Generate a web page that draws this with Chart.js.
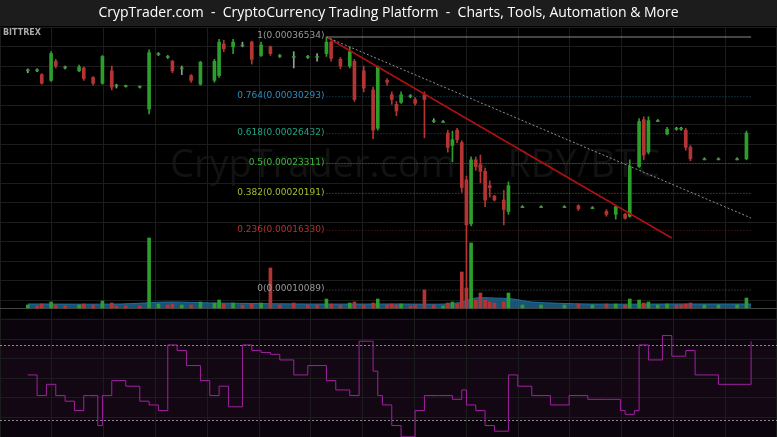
<!DOCTYPE html>
<html>
<head>
<meta charset="utf-8">
<title>CrypTrader RBY/BTC</title>
<script src="https://cdn.jsdelivr.net/npm/chart.js"></script>
<style>
  html, body { margin: 0; padding: 0; background: #000; }
  #wrap { width: 777px; height: 437px; }
</style>
</head>
<body>
<div id="wrap"><canvas id="chart" width="777" height="437"></canvas></div>
<script>
// candles: time index, open, high, low, close (satoshi)
const candleT = [0,2,3,5,6,8,11,12,14,16,18,19,21,24,26,28,30,31,33,35,37,40,41,42,44,46,48,50,52,54,57,60,62,64,65,67,69,70,72,74,75,77,78,79,80,82,83,85,87,89,90,91,92,93,94,95,96,97,98,99,100,102,103,106,110,115,118,121,124,126,128,129,131,132,133,135,137,139,140,141,142,145,148,152,154];
const opens  = [33000,33100,32600,32000,34000,33400,33000,33300,32300,31700,33000,31500,31400,31350,29000,34700,34500,34000,33200,32500,31600,32000,32500,35800,35500,35700,36000,34600,35500,34600,34500,34500,34500,34800,36000,34200,33500,34000,33000,31000,27000,32000,30500,29500,29700,30400,30000,30500,27800,27700,26500,25200,26800,25500,21600,17000,23700,23200,22500,21000,19900,19500,18300,18800,18800,18800,18900,18700,18300,18000,18000,17800,23000,27900,24500,27800,26400,27000,27000,26800,25000,23800,23800,23800,23800];
const highs  = [33200,33200,32700,35000,34200,33500,33600,33400,32400,34600,33500,31600,31500,31400,35200,34900,34600,34100,33500,32600,34000,34200,36300,36200,36300,36000,36100,36000,35600,34700,35000,34600,34800,36534,36100,34400,35500,34200,33500,31300,33500,32200,30800,29800,30800,30500,30200,30800,28000,27800,26800,26700,27000,25700,22000,24000,24000,24200,22800,21500,20000,20500,21400,18900,18900,18900,19000,18800,18500,18900,18100,23700,28000,28200,28200,27900,27100,27100,27100,27000,25200,23900,23900,23900,26700];
const lows   = [32800,32900,31600,31900,33300,33200,32900,32000,31500,31600,31000,31200,31300,31200,28500,34600,34300,32800,32600,31800,31500,31800,32300,35000,34800,35500,33700,34500,34600,34400,33300,34300,34000,34500,34000,33200,33300,29800,30800,25900,26800,31500,29500,28300,29600,30200,29400,26000,27600,27600,24500,23500,25500,20300,10100,16800,22600,21300,18800,19800,19400,16900,18000,18700,18700,18700,18400,18600,17800,17500,17500,17700,22900,23700,24300,27700,26300,26800,26800,24700,23600,23700,23700,23700,23700];
const closes = [33100,33000,31700,34800,33500,33300,33400,32200,31700,34500,31300,31400,31350,31300,34900,34800,34400,33000,33300,32000,33900,34000,36000,35300,36000,35600,34200,35700,34800,34500,34400,34400,34400,36000,34300,33500,35000,30000,31200,26800,33400,31800,30000,28800,30500,30300,29600,30000,27700,27700,25000,25800,25800,20800,16900,23700,23000,22500,19500,20800,19500,18500,21000,18800,18800,18800,18600,18700,18000,18800,17600,23000,27700,24200,27800,27800,26900,26900,26900,25000,23800,23800,23800,23800,26500];

// volume bars at candle times, volume moving average (area)
const volumes = [3,2,4,6,3,2,3,4,3,7,5,2,2,2,70,4,3,4,3,3,6,5,8,4,5,3,4,5,40,3,5,3,3,9,4,3,5,6,3,5,9,3,4,3,4,2,3,18,3,2,5,6,4,36,20,65,8,15,8,6,5,6,15,3,3,3,4,3,4,4,3,9,8,5,6,3,4,3,3,4,5,3,3,3,10];
const volMaT = [0,20,30,40,60,80,90,93,96,100,104,108,120,140,155];
const volMa  = [4,4,6,5,4,4,4,6,10,10,9,6,4,4,4];

// RSI
const rsiT = [0,2,4,6,8,10,12,13,15,16,18,21,24,26,28,30,32,34,37,39,41,43,46,48,50,52,54,57,60,64,66,69,71,74,75,76,78,80,83,85,88,91,93,94,96,98,100,103,105,108,112,116,120,124,127,128,130,131,133,136,138,141,143,148,153,154,155];
const rsiVal = [54,43,49,43,40,35,43,43,27,43,51,48,40,38,35,70,67,59,51,43,48,37,70,67,66,65,62,54,59,51,46,43,72,56,43,38,27,21,35,43,43,41,46,38,35,27,24,54,48,43,38,43,41,41,35,33,35,70,62,75,64,67,54,49,49,49,72,72];

// Fibonacci retracement
const fibRatios = ["1","0.764","0.618","0.5","0.382","0.236","0"];
const fibPrices = [36534,30293,26432,23311,20191,16330,10089];
const fibColors = ["#9a9a9a","#2b8ec4","#1fa585","#3dbb3d","#a6bf2c","#b83232","#9a9a9a"];
const fibStartT = 64, endT = 155;

// trendlines
const redTrendT = [64,138], redTrend = [36534,15530];
const grayTrendT = [64,155], grayTrend = [36534,17620];

const GREEN = '#2c9e2c', RED = '#b43434', GRAY = '#8a8a8a';
function candleColor(i) {
  if (Math.abs(opens[i] - closes[i]) < 150) return GRAY;
  return closes[i] > opens[i] ? GREEN : RED;
}

const datasets = [];
fibPrices.forEach((p, i) => {
  datasets.push({
    type: 'line', data: [{x: fibStartT, y: p}, {x: endT, y: p}],
    borderColor: i === 0 ? '#8a8a8a' : fibColors[i] + '99', borderWidth: 1,
    borderDash: i === 0 ? [] : [1, 2], pointRadius: 0, yAxisID: 'y', order: 5
  });
});
datasets.push({
  type: 'line', data: grayTrendT.map((t, i) => ({x: t, y: grayTrend[i]})),
  borderColor: '#8f8f8f', borderWidth: 1, borderDash: [2, 2], pointRadius: 0, yAxisID: 'y', order: 1
});
datasets.push({
  type: 'line', data: redTrendT.map((t, i) => ({x: t, y: redTrend[i]})),
  borderColor: '#b01010', borderWidth: 1.5, pointRadius: 0, yAxisID: 'y', order: 1
});
datasets.push({
  type: 'bar', grouped: false, barThickness: 1,
  data: candleT.map((t, i) => ({x: t, y: [lows[i], highs[i]]})),
  backgroundColor: candleT.map((t, i) => candleColor(i) === GRAY ? '#9a9a9a' : candleColor(i)),
  yAxisID: 'y', order: 3
});
datasets.push({
  type: 'bar', grouped: false, barThickness: 3, minBarLength: 1,
  data: candleT.map((t, i) => ({x: t, y: [opens[i], closes[i]]})),
  backgroundColor: candleT.map((t, i) => candleColor(i) === GRAY ? GREEN : candleColor(i)),
  yAxisID: 'y', order: 2
});
datasets.push({
  type: 'line', data: volMaT.map((t, i) => ({x: t, y: volMa[i]})),
  borderColor: '#1f6f9f', backgroundColor: 'rgba(31,111,159,0.75)', fill: 'origin',
  borderWidth: 1, pointRadius: 0, tension: 0.3, yAxisID: 'vol', order: 4
});
datasets.push({
  type: 'bar', grouped: false, barThickness: 3,
  data: candleT.map((t, i) => ({x: t, y: volumes[i]})),
  backgroundColor: candleT.map((t, i) => closes[i] >= opens[i] ? GREEN : RED),
  yAxisID: 'vol', order: 3
});
datasets.push({
  type: 'line', data: rsiT.map((t, i) => ({x: t, y: rsiVal[i]})),
  borderColor: '#a021a0', borderWidth: 1, pointRadius: 0, stepped: true, yAxisID: 'rsi', order: 1
});

const panels = {
  id: 'panels',
  beforeDraw(chart) {
    const c = chart.ctx;
    c.save();
    c.fillStyle = '#000';
    c.fillRect(0, 0, chart.width, chart.height);
    const rsi = chart.scales.rsi;
    const top = rsi.getPixelForValue(84.5);
    c.fillStyle = '#0c040c';
    c.fillRect(0, top, chart.width, chart.height - top);
    c.fillStyle = '#140714';
    c.fillRect(0, rsi.getPixelForValue(70), chart.width, rsi.getPixelForValue(30) - rsi.getPixelForValue(70));
    // title bar
    c.fillStyle = '#1c1c1c';
    c.fillRect(0, 0, chart.width, 26);
    c.fillStyle = '#fff';
    c.font = '14px "Open Sans", Arial, sans-serif';
    c.textAlign = 'center';
    c.textBaseline = 'middle';
    c.fillText('CrypTrader.com  -  CryptoCurrency Trading Platform  -  Charts, Tools, Automation & More', chart.width / 2, 13);
    // watermark
    c.fillStyle = '#121212';
    c.font = '38px "Open Sans", Arial, sans-serif';
    c.fillText('CrypTrader.com  -  RBY/BTC', 415, 166);
    c.restore();
  },
  beforeDatasetsDraw(chart) {
    const c = chart.ctx, rsi = chart.scales.rsi, vol = chart.scales.vol;
    c.save();
    c.strokeStyle = '#444';
    c.lineWidth = 1;
    const base = Math.round(vol.getPixelForValue(0)) + 0.5;
    c.beginPath(); c.moveTo(0, base); c.lineTo(chart.width, base); c.stroke();
    c.strokeStyle = '#8a8a8a';
    c.setLineDash([2, 2]);
    [70, 30].forEach(v => {
      const y = Math.round(rsi.getPixelForValue(v)) + 0.5;
      c.beginPath(); c.moveTo(0, y); c.lineTo(chart.width, y); c.stroke();
    });
    c.restore();
  },
  afterDatasetsDraw(chart) {
    const c = chart.ctx, x = chart.scales.x, y = chart.scales.y;
    c.save();
    c.font = '9px "DejaVu Sans", sans-serif';
    c.textAlign = 'right';
    c.textBaseline = 'middle';
    fibPrices.forEach((p, i) => {
      c.fillStyle = fibColors[i];
      c.fillText(fibRatios[i] + '(0.000' + p + ')', x.getPixelForValue(fibStartT) - 2, y.getPixelForValue(p) - 1);
    });
    c.textAlign = 'left';
    c.fillStyle = '#aaa';
    c.font = 'bold 8px "DejaVu Sans", sans-serif';
    c.fillText('BITTREX', 3, 33);
    c.restore();
  }
};

new Chart(document.getElementById('chart'), {
  data: { datasets },
  options: {
    responsive: false,
    animation: false,
    layout: { padding: { top: 27 } },
    plugins: { legend: { display: false }, tooltip: { enabled: false } },
    scales: {
      x: {
        type: 'linear', min: -0.4, max: 155,
        ticks: { display: false, stepSize: 11.1 },
        grid: { color: '#1c1c1c', drawTicks: false }, border: { display: false }
      },
      y: {
        axis: 'y', position: 'left', min: -5266, max: 37579,
        ticks: { display: false, stepSize: 2040 },
        grid: { color: '#1c1c1c', drawTicks: false }, border: { display: false }
      },
      vol: { axis: 'y', position: 'right', display: false, min: -129, max: 281 },
      rsi: { axis: 'y', position: 'right', display: false, min: 20.9, max: 239.6 }
    }
  },
  plugins: [panels]
});
</script>
</body>
</html>
